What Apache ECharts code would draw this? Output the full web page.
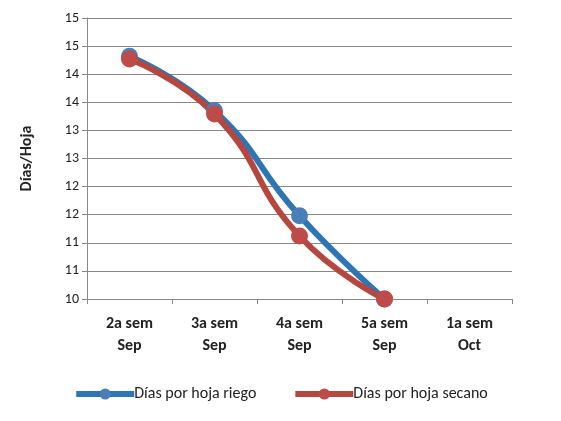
<!DOCTYPE html>
<html><head><meta charset="utf-8">
<script src="https://cdn.jsdelivr.net/npm/echarts@6/dist/echarts.min.js"></script>
<style>body{margin:0}#c{width:561px;height:421px}</style></head>
<body><div id="c"></div>
<script>
const categories = ["2a sem\nSep", "3a sem\nSep", "4a sem\nSep", "5a sem\nSep", "1a sem\nOct"];
const riego = [14.32, 13.35, 11.48, 10, null];
const secano = [14.27, 13.29, 11.12, 10, null];

let mychart = echarts.init(document.getElementById("c"));
let font = "Carlito, Calibri, 'Liberation Sans', sans-serif";
let option = {
  textStyle: { fontFamily: font },
  grid: { left: 87, right: 49, top: 18, bottom: 122 },
  legend: {
    bottom: 14,
    itemWidth: 58, itemHeight: 14, itemGap: 36,
    textStyle: { fontSize: 16, color: "#222", padding: [0, 0, 0, -5] },
    lineStyle: { width: 6 },
    data: ["Días por hoja riego", "Días por hoja secano"],
  },
  xAxis: {
    type: "category",
    data: categories,
    axisTick: { show: true, lineStyle: { color: "#888" } },
    axisLine: { lineStyle: { color: "#888" } },
    axisLabel: { fontSize: 16, fontWeight: "bold", color: "#222", lineHeight: 22, margin: 14 },
  },
  yAxis: {
    type: "value",
    min: 10, max: 15, interval: 0.5,
    name: "Días/Hoja",
    nameLocation: "middle",
    nameGap: 52,
    nameTextStyle: { fontSize: 16, fontWeight: "bold", color: "#222" },
    axisLine: { show: true, lineStyle: { color: "#888" } },
    axisTick: { show: true, lineStyle: { color: "#888" } },
    splitLine: { lineStyle: { color: "#888" } },
    axisLabel: { fontSize: 14, color: "#222", formatter: (v) => Math.round(v) },
  },
  series: [
    {
      name: "Días por hoja riego", type: "line", smooth: 0.5,
      data: riego, symbol: "circle", symbolSize: 17,
      lineStyle: { width: 6, color: "#2E75B6" },
      itemStyle: { color: "#4A7EBB" },
    },
    {
      name: "Días por hoja secano", type: "line", smooth: 0.5,
      data: secano, symbol: "circle", symbolSize: 17,
      lineStyle: { width: 6, color: "#B5473F" },
      itemStyle: { color: "#BE4B48" },
    },
  ],
};
mychart.setOption(option);
</script></body></html>
